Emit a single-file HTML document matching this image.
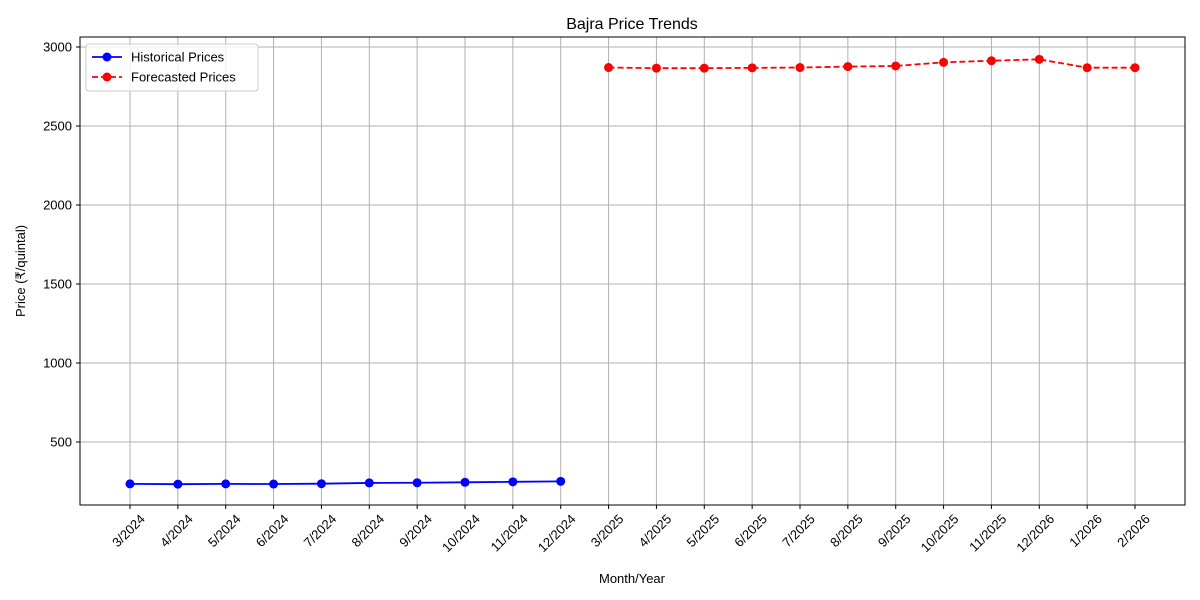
<!DOCTYPE html>
<html><head><meta charset="utf-8"><style>
body{margin:0;background:#fff;font-family:"Liberation Sans","DejaVu Sans",sans-serif;}
svg{display:block}
</style></head><body>
<svg id="chart" width="1200" height="600">
<rect width="1200" height="600" fill="#fff"/>
<text x="632" y="29" font-size="16" text-anchor="middle">Bajra Price Trends</text>
<text x="632" y="583" font-size="13" text-anchor="middle">Month/Year</text>
<text transform="translate(25,271) rotate(-90)" font-size="13" text-anchor="middle">Price (₹/quintal)</text>
<g id="grid"></g><g id="series"></g><g id="ticks"></g>
<rect x="80" y="37" width="1105" height="468" fill="none" stroke="#000" stroke-width="1"/>
<g>
<rect x="86" y="44" width="172" height="47" rx="3" fill="#fff" fill-opacity="0.8" stroke="#ccc"/>
<g>
<line x1="92" y1="57" x2="122" y2="57" stroke="#0000ff" stroke-width="1.8"/><circle cx="107" cy="57" r="4.5" fill="#0000ff"/>
<text x="131" y="61.5" font-size="13">Historical Prices</text></g>
<g>
<line x1="92" y1="77" x2="122" y2="77" stroke="#ff0000" stroke-width="1.8" stroke-dasharray="6,3"/><circle cx="107" cy="77" r="4.5" fill="#ff0000"/>
<text x="131" y="81.5" font-size="13">Forecasted Prices</text></g>
</g>
</svg>
<script>
const categories=["3/2024","4/2024","5/2024","6/2024","7/2024","8/2024","9/2024","10/2024","11/2024","12/2024","3/2025","4/2025","5/2025","6/2025","7/2025","8/2025","9/2025","10/2025","11/2025","12/2026","1/2026","2/2026"];
const historical=[235,233,235,234,236,241,242,245,248,251];
const forecast=[2870,2866,2866,2868,2870,2876,2880,2903,2913,2922,2869,2869];
const yTicks=[500,1000,1500,2000,2500,3000];
const NS="http://www.w3.org/2000/svg";
function x(i){return 130+i*(1135-130)/21;}
function y(v){return 442-(v-500)*(395/2500);}
function mk(tag,attrs,parent){const e=document.createElementNS(NS,tag);for(const k in attrs)e.setAttribute(k,attrs[k]);parent.appendChild(e);return e;}
const grid=document.getElementById('grid'),ser=document.getElementById('series'),tk=document.getElementById('ticks');
categories.forEach((c,i)=>{
 const g=mk('line',{x1:x(i),x2:x(i),y1:37,y2:505,stroke:'#b0b0b0','stroke-width':1},grid);
 
 
 mk('line',{x1:x(i),x2:x(i),y1:505,y2:509,stroke:'#000'},tk);
 const t=mk('text',{transform:`translate(${x(i)+9},${513}) rotate(-45)`,'font-size':13,'text-anchor':'end','dominant-baseline':'hanging'},tk);
 t.textContent=c;
 
 
});
yTicks.forEach(v=>{
 const g=mk('line',{x1:80,x2:1185,y1:y(v),y2:y(v),stroke:'#b0b0b0','stroke-width':1},grid);
 
 
 mk('line',{x1:76,x2:80,y1:y(v),y2:y(v),stroke:'#000'},tk);
 const t=mk('text',{x:72,y:y(v)+4.5,'font-size':13,'text-anchor':'end'},tk);
 t.textContent=v;
 
 
});
function draw(vals,off,color,dash,name){
 const pts=vals.map((v,i)=>x(i+off)+','+y(v)).join(' ');
 const l=mk('polyline',{points:pts,fill:'none',stroke:color,'stroke-width':1.8,'stroke-dasharray':dash},ser);
 
 
 vals.forEach((v,i)=>{
  const c=mk('circle',{cx:x(i+off),cy:y(v),r:4.5,fill:color},ser);
  
  
 });
}
draw(historical,0,'#0000ff','none','historical');
draw(forecast,historical.length,'#ff0000','6,3','forecast');
</script>
</body></html>
